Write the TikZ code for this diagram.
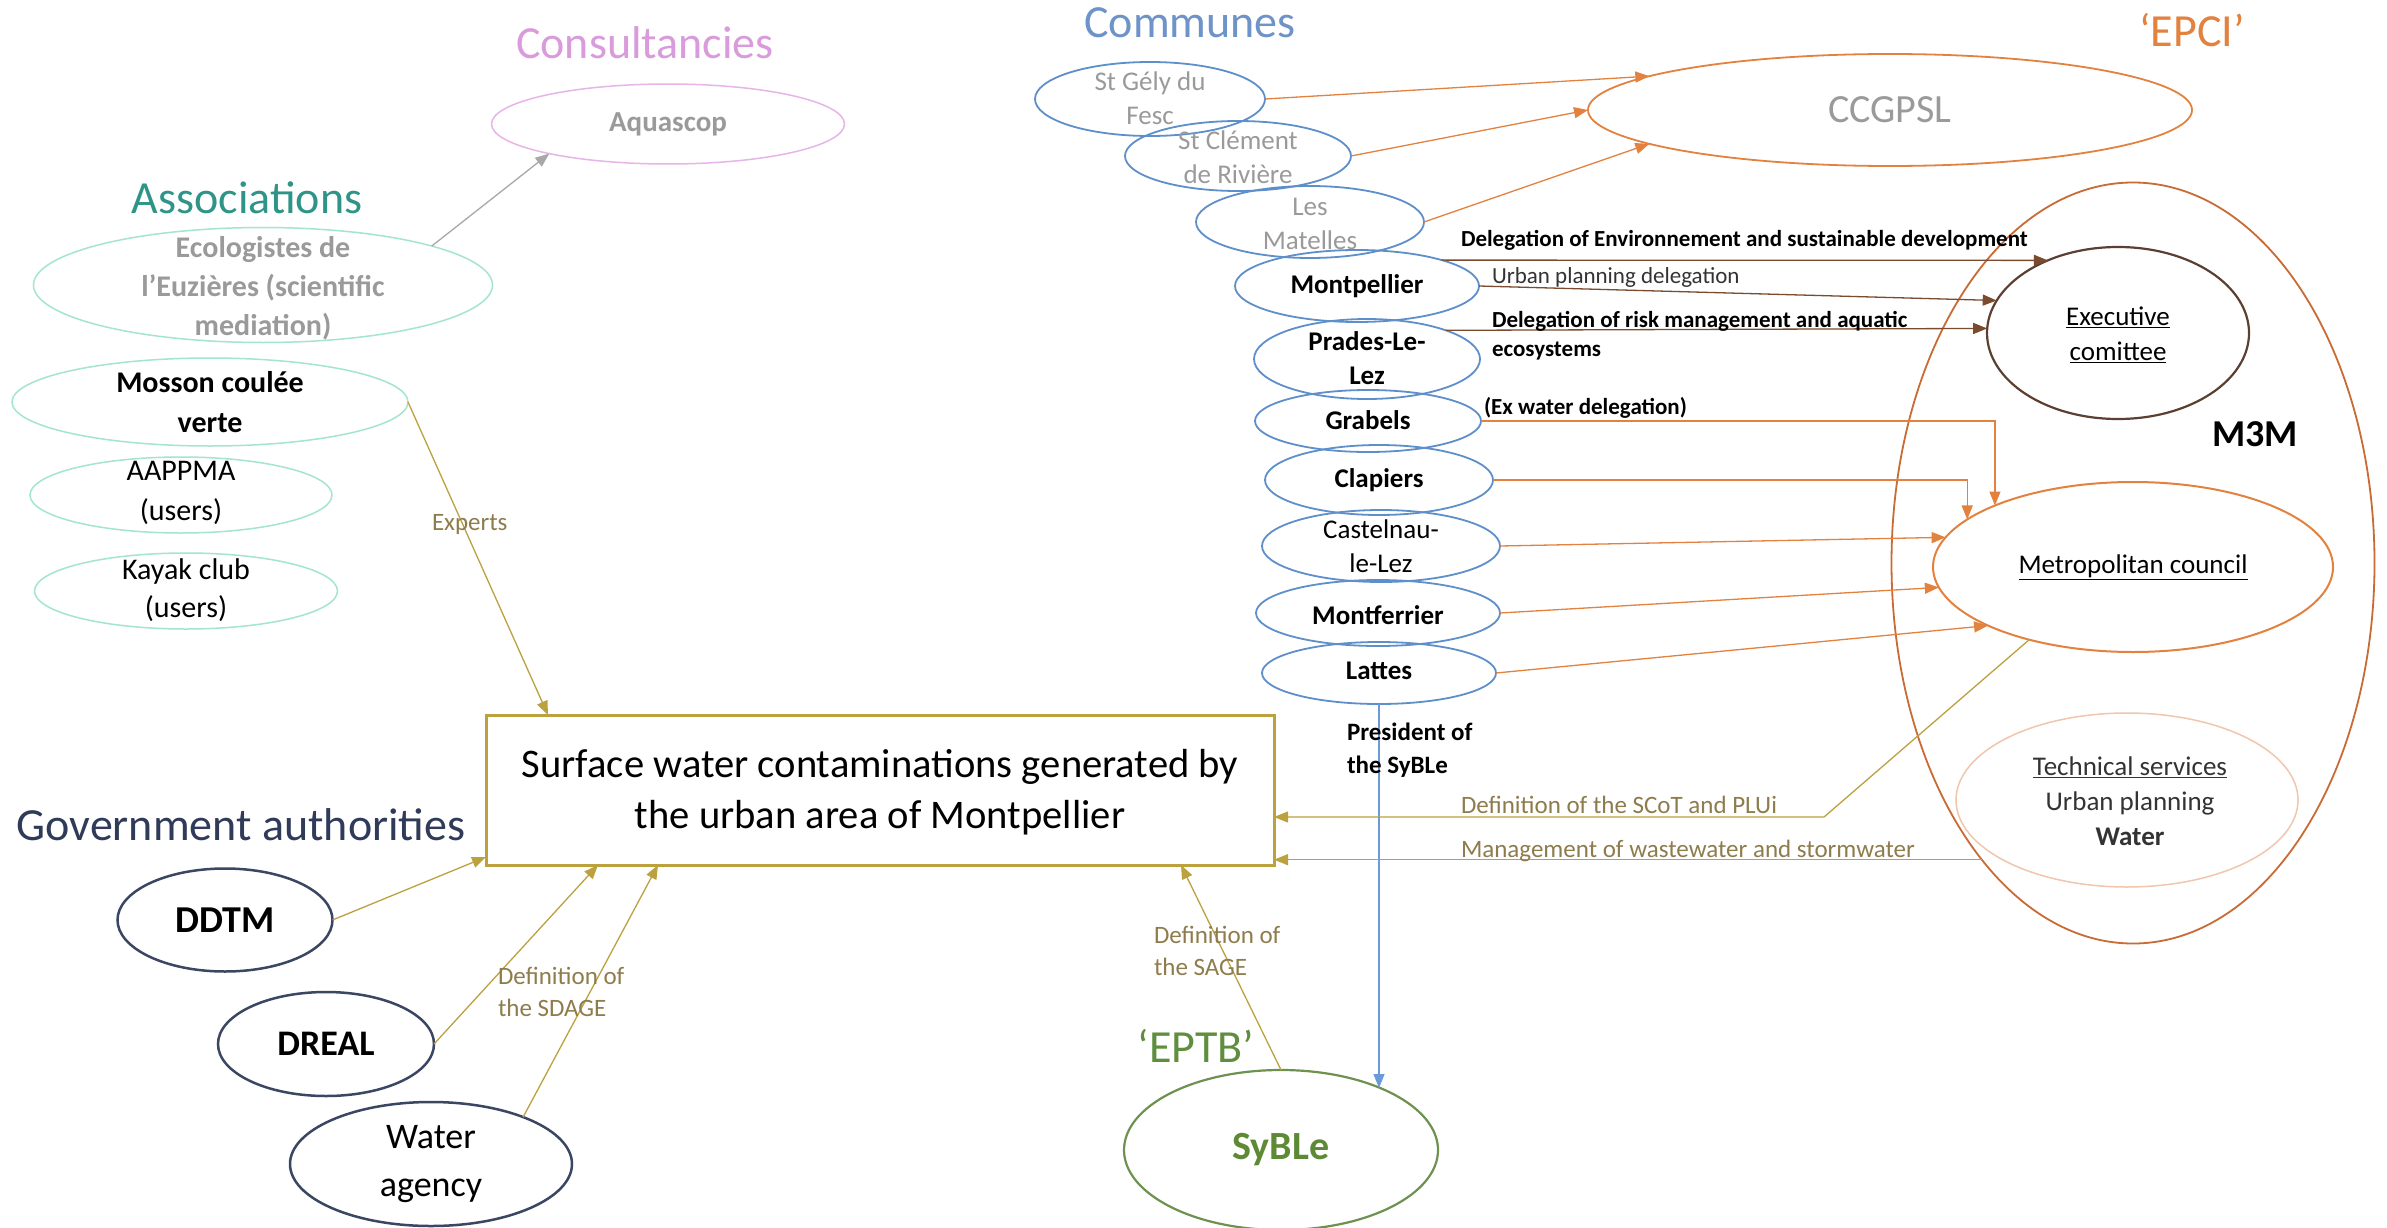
\documentclass[tikz,border=0pt]{standalone}
\usepackage{fontspec}
\setmainfont{Carlito}
\usetikzlibrary{shapes.geometric,arrows.meta,calc}
\newcommand{\myfs}[2]{\fontsize{#1}{#2}\selectfont}
\definecolor{cGold}{HTML}{BBA23F}
\definecolor{cOliveTxt}{HTML}{8E7C4C}
\definecolor{cBlue}{HTML}{5E8FCB}
\definecolor{cBlueArr}{HTML}{6A9BD8}
\definecolor{cMint}{HTML}{A3E5CD}
\definecolor{cPink}{HTML}{E7B5E7}
\definecolor{cNavy}{HTML}{3B4663}
\definecolor{cGreen}{HTML}{6E9150}
\definecolor{cOrange}{HTML}{E3823F}
\definecolor{cBrownOr}{HTML}{C96B35}
\definecolor{cDark}{HTML}{5B4032}
\definecolor{cDeleg}{HTML}{7A4B2E}
\definecolor{cLightOr}{HTML}{F1C6AE}
\definecolor{cGrayTxt}{HTML}{9A9A9A}
\definecolor{cGrayArr}{HTML}{A8A8A8}
\definecolor{cTxtDark}{HTML}{333333}
\definecolor{cCons}{HTML}{D99BDC}
\definecolor{cAsso}{HTML}{2E9487}
\definecolor{cComm}{HTML}{6E93C8}
\definecolor{cEpci}{HTML}{E3813F}
\definecolor{cGov}{HTML}{2F3B58}
\definecolor{cEptb}{HTML}{5F8E3E}
\definecolor{cSyble}{HTML}{5E8A36}
\begin{document}
\begin{tikzpicture}[x=1pt,y=-1pt,
  every node/.style={inner sep=0pt,outer sep=0pt},
  ell/.style={draw=#1,ellipse,line width=1.8pt},
  ttl/.style={font=\myfs{46}{50}},
  ctext/.style={align=center,font=\myfs{27}{34}},
  lbl/.style={anchor=west,align=left,font=\myfs{25}{32},text=cOliveTxt},
  blbl/.style={anchor=west,align=left,font=\bfseries\myfs{23}{29}},
  arr/.style={-{Triangle[length=14pt,width=11pt]},line width=1.3pt},
]
\fill[white] (0,0) rectangle (2387,1228);
\useasboundingbox (0,0) rectangle (2387,1228);

% ---------- titles
\node[ttl,text=cCons] (tcons) at (645,43) {Consultancies};
\node[ttl,text=cAsso] (tasso) at (247,198) {Associations};
\node[ttl,text=cComm] (tcomm) at (1190,23) {Communes};
\node[ttl,text=cEpci] (tepci) at (2192,30) {‘EPCI’};
\node[ttl,text=cGov] (tgov) at (241,825) {Government authorities};
\node[ttl,text=cEptb] (teptb) at (1196,1046) {‘EPTB’};

% ---------- consultancies / associations
\node[ell=cPink,line width=1.5pt,minimum width=353pt,minimum height=80pt] (aqua) at (668,124) {};
\node[font=\bfseries\myfs{29}{36},text=cGrayTxt] (aquat) at (aqua) {Aquascop};
\node[ell=cMint,line width=1.5pt,minimum width=459pt,minimum height=115pt] (eco) at (263,285) {};
\node[align=center,font=\bfseries\myfs{30}{39},text=cGrayTxt] (ecot) at (263,288) {Ecologistes de\\l’Euzières (scientific\\mediation)};
\node[ell=cMint,line width=1.5pt,minimum width=396pt,minimum height=88pt] (mos) at (210,402) {};
\node[align=center,font=\bfseries\myfs{30}{40}] (most) at (210,402) {Mosson coulée\\verte};
\node[ell=cMint,line width=1.5pt,minimum width=302pt,minimum height=76pt] (aap) at (181,495) {};
\node[align=center,font=\myfs{30}{40}] (aapt) at (181,493) {AAPPMA\\(users)};
\node[ell=cMint,line width=1.5pt,minimum width=303pt,minimum height=76pt] (kay) at (186,591) {};
\node[align=center,font=\myfs{30}{38}] (kayt) at (186,590) {Kayak club\\(users)};

% ---------- main box
\node[draw=cGold,line width=3pt,fill=white,minimum width=788pt,minimum height=150pt] (box) at (880,790) {};
\node[align=center,font=\myfs{40.6}{51}] (boxt) at (880,792) {Surface water contaminations generated by\\the urban area of Montpellier};

% ---------- government authorities
\node[ell=cNavy,line width=2.5pt,minimum width=215pt,minimum height=103pt] (ddtm) at (225,920) {};
\node[font=\bfseries\myfs{38}{40}] (ddtmt) at (ddtm) {DDTM};
\node[ell=cNavy,line width=2.5pt,minimum width=216pt,minimum height=104pt] (dreal) at (326,1044) {};
\node[font=\bfseries\myfs{36}{40}] (drealt) at (dreal) {DREAL};
\node[ell=cNavy,line width=2.5pt,minimum width=282pt,minimum height=124pt] (water) at (431,1164) {};
\node[align=center,font=\myfs{36}{48}] (watert) at (431,1164) {Water\\agency};

% ---------- SyBLe
\node[ell=cGreen,line width=2.2pt,minimum width=314pt,minimum height=160pt] (syble) at (1281,1150) {};
\node[font=\bfseries\myfs{40}{44},text=cSyble] (syblet) at (syble) {SyBLe};

% ---------- communes
\node[ell=cBlue,minimum width=230pt,minimum height=74pt] (sg) at (1150,99) {};
\node[ell=cBlue,minimum width=226pt,minimum height=70pt] (sc) at (1238,156) {};
\node[ell=cBlue,minimum width=228pt,minimum height=72pt] (lm) at (1310,222) {};
\node[ell=cBlue,minimum width=244pt,minimum height=72pt] (mp) at (1357,286) {};
\node[ell=cBlue,minimum width=226pt,minimum height=80pt] (pl) at (1367,359) {};
\node[ell=cBlue,minimum width=226pt,minimum height=62pt] (gr) at (1368,421) {};
\node[ell=cBlue,minimum width=228pt,minimum height=70pt] (cl) at (1379,480) {};
\node[ell=cBlue,minimum width=238pt,minimum height=72pt] (ca) at (1381,546) {};
\node[ell=cBlue,minimum width=244pt,minimum height=66pt] (mf) at (1378,613) {};
\node[ell=cBlue,minimum width=234pt,minimum height=62pt] (la) at (1379,673) {};
\node[ctext,text=cGrayTxt] (sgt) at (1150,98) {St Gély du\\Fesc};
\node[ctext,text=cGrayTxt] (sct) at (1238,157) {St Clément\\de Rivière};
\node[ctext,text=cGrayTxt] (lmt) at (1310,224) {Les\\Matelles};
\node[ctext,font=\bfseries\myfs{27}{34}] (mpt) at (1357,286) {Montpellier};
\node[ctext,font=\bfseries\myfs{27}{34}] (plt) at (1367,358) {Prades-Le-\\Lez};
\node[ctext,font=\bfseries\myfs{27}{34}] (grt) at (1368,420) {Grabels};
\node[ctext,font=\bfseries\myfs{27}{34}] (clt) at (1379,480) {Clapiers};
\node[ctext] (cat) at (1381,546) {Castelnau-\\le-Lez};
\node[ctext,font=\bfseries\myfs{27}{34}] (mft) at (1378,615) {Montferrier};
\node[ctext,font=\bfseries\myfs{27}{34}] (lat) at (1379,671) {Lattes};

% ---------- EPCI
\node[ell=cOrange,minimum width=604pt,minimum height=112pt] (cc) at (1890,110) {};
\node[font=\myfs{40}{44},text=cGrayTxt] (cct) at (cc) {CCGPSL};
\node[ell=cBrownOr,minimum width=483pt,minimum height=761pt] (m3m) at (2133,563) {};
\node[font=\bfseries\myfs{38}{40}] (m3mt) at (2255,434) {M3M};
\node[ell=cDark,line width=2.2pt,minimum width=262pt,minimum height=172pt] (exec) at (2118,333) {};
\node[ctext,font=\myfs{27}{35}] (exect) at (2118,335) {\underline{Executive}\\\underline{comittee}};
\node[ell=cOrange,line width=2pt,minimum width=400pt,minimum height=170pt] (mc) at (2133,567) {};
\node[ctext] (mct) at (2133,567) {\underline{Metropolitan council}};
\node[ell=cLightOr,line width=1.5pt,minimum width=342pt,minimum height=174pt] (tech) at (2127,800) {};
\node[ctext,font=\myfs{27}{35},text=cTxtDark] (techt) at (2130,801) {\underline{Technical services}\\Urban planning\\\textbf{Water}};

% ---------- connectors
\draw[arr,color=cGrayArr] (eco.13) -- (aqua.-166);
\draw[arr,color=cGold] (mos.east) -- ([xshift=62pt]box.north west);
\draw[arr,color=cGold] (ddtm.east) -- ([yshift=8pt]box.south west);
\draw[arr,color=cGold] (dreal.east) -- ([xshift=112pt]box.south west);
\draw[arr,color=cGold] (water.27) -- ([xshift=172pt]box.south west);
\draw[arr,color=cGold] (syble.north) -- ([xshift=695pt]box.south west);

\draw[arr,color=cOrange] (sg.east) -- (cc.172);
\draw[arr,color=cOrange] (sc.east) -- (cc.west);
\draw[arr,color=cOrange] (lm.east) -- (cc.188);

\draw[arr,color=cDeleg] (mp.17) -- (exec.134);
\draw[arr,color=cDeleg] (mp.east) -- (exec.165);
\draw[arr,color=cDeleg] (pl.20) -- (exec.178);

\draw[arr,color=cOrange] (gr.east) -| (mc.156);
\draw[arr,color=cOrange] (cl.east) -| (mc.164);
\draw[arr,color=cOrange] (ca.east) -- (mc.171);
\draw[arr,color=cOrange] (mf.east) -- (mc.186);
\draw[arr,color=cOrange] (la.east) -- (mc.202);

\draw[arr,color=cBlueArr] (la.south) -- (la.south |- syble.32);

\coordinate (bend1) at (1824,817);
\draw[arr,color=cGold] (mc.215) -- (bend1) -- (bend1 -| box.east);
\draw[arr,color=cGold] (m3m.243) -- (m3m.243 -| box.east);

% ---------- labels
\node[lbl] (lexp) at (432,524) {Experts};
\node[lbl] (lsdage) at (498,992) {Definition of\\the SDAGE};
\node[lbl] (lsage) at (1154,951) {Definition of\\the SAGE};
\node[lbl] (lscot) at (1461,805) {Definition of the SCoT and PLUi};
\node[lbl] (lmgmt) at (1461,851) {Management of wastewater and stormwater};
\node[blbl] (ld1) at (1461,240) {Delegation of Environnement and sustainable development};
\node[anchor=west,font=\myfs{23}{29},text=cTxtDark] (ld2) at (1492,277) {Urban planning delegation};
\node[blbl] (ld3) at (1492,336) {Delegation of risk management and aquatic\\ecosystems};
\node[blbl] (ld4) at (1484,408) {(Ex water delegation)};
\node[anchor=west,align=left,font=\bfseries\myfs{25}{33}] (lpres) at (1347,750) {President of\\the SyBLe};
\end{tikzpicture}
\end{document}
